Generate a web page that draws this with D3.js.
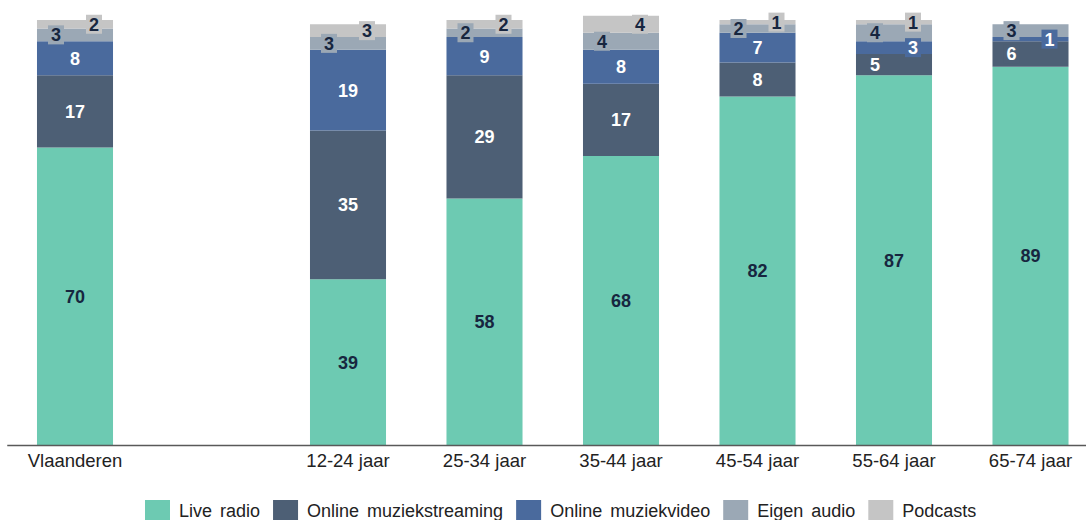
<!DOCTYPE html>
<meta charset="utf-8">
<script src="https://d3js.org/d3.v7.min.js"></script>
<style>
    body { margin: 0; background: #fff; }
    text { font-family: "Liberation Sans", Arial, sans-serif; }
</style>
<body>
    <div id="chart"></div>
</body>
<script>

    // categories (the empty slot is the gap after Vlaanderen)
    var slots = ["Vlaanderen", "gap", "12-24 jaar", "25-34 jaar", "35-44 jaar", "45-54 jaar", "55-64 jaar", "65-74 jaar"];
    var categories = ["Vlaanderen", "12-24 jaar", "25-34 jaar", "35-44 jaar", "45-54 jaar", "55-64 jaar", "65-74 jaar"];

    // series values (percent)
    var liveRadio = [70, 39, 58, 68, 82, 87, 89];
    var streaming = [17, 35, 29, 17, 8, 5, 6];
    var video = [8, 19, 9, 8, 7, 3, 1];
    var eigenAudio = [3, 3, 2, 4, 2, 4, 3];
    var podcasts = [2, 3, 2, 4, 1, 1, 0];

    var seriesNames = ["Live radio", "Online muziekstreaming", "Online muziekvideo", "Eigen audio", "Podcasts"];
    var seriesValues = [liveRadio, streaming, video, eigenAudio, podcasts];
    var colors = ["#6dcab2", "#4d5f75", "#4a6a9d", "#9ba8b5", "#c5c5c5"];
    var textColors = ["#17263f", "#ffffff", "#ffffff", "#17263f", "#17263f"];

    var width = 1086, height = 520;

    var svg = d3.select("#chart")
        .append("svg")
        .attr("width", width)
        .attr("height", height);

    var x = d3.scaleBand()
        .domain(slots)
        .range([6.75, 1098.75])
        .paddingInner(0.443)
        .paddingOuter(0.2215);

    var y = d3.scaleLinear()
        .domain([0, 100])
        .range([445, 20]);

    // build rows for the stack
    var rows = categories.map(function (c, i) {
        var r = { cat: c };
        seriesNames.forEach(function (s, j) { r[s] = seriesValues[j][i]; });
        return r;
    });

    var stacked = d3.stack().keys(seriesNames)(rows);

    // bars
    stacked.forEach(function (layer, j) {
        svg.append("g")
            .selectAll("rect")
            .data(layer)
            .enter()
            .append("rect")
            .attr("x", function (d) { return x(d.data.cat); })
            .attr("width", x.bandwidth())
            .attr("y", function (d) { return y(d[1]); })
            .attr("height", function (d) { return y(d[0]) - y(d[1]); })
            .style("fill", colors[j]);
    });

    // labels: small values shift left / right alternately, with a box
    var labels = svg.append("g");
    categories.forEach(function (c, i) {
        var side = -1;
        var cx = x(c) + x.bandwidth() / 2;
        stacked.forEach(function (layer, j) {
            var d = layer[i];
            var v = d[1] - d[0];
            if (v <= 0) return;
            var cy = y((d[0] + d[1]) / 2);
            var lx = cx;
            if (v < 7) {
                lx = cx + side * 19;
                side = -side;
                labels.append("rect")
                    .attr("x", lx - 8)
                    .attr("y", cy - 9.5)
                    .attr("width", 16)
                    .attr("height", 19)
                    .style("fill", colors[j]);
            }
            labels.append("text")
                .attr("x", lx)
                .attr("y", cy)
                .attr("dy", "0.36em")
                .attr("text-anchor", "middle")
                .style("font-size", "18px")
                .style("font-weight", "bold")
                .style("fill", textColors[j])
                .text(v);
        });
    });

    // x axis
    var axis = svg.append("g")
        .attr("transform", "translate(0,445)")
        .call(d3.axisBottom(x).tickSize(0).tickSizeOuter(0).tickPadding(9)
            .tickFormat(function (d) { return d === "gap" ? "" : d; }));
    axis.select(".domain").attr("stroke", "#595959").attr("stroke-width", 1.3);
    axis.selectAll("text")
        .style("font-size", "18.5px")
        .style("fill", "#222")
        .style("font-family", "\"Liberation Sans\", Arial, sans-serif");

    // legend
    var legend = svg.append("g");
    var lx = 145;
    seriesNames.forEach(function (s, j) {
        legend.append("rect")
            .attr("x", lx)
            .attr("y", 500)
            .attr("width", 25)
            .attr("height", 20)
            .style("fill", colors[j]);
        var t = legend.append("text")
            .attr("x", lx + 34)
            .attr("y", 517)
            .style("font-size", "18px")
            .style("word-spacing", "3px")
            .style("fill", "#222")
            .text(s);
        lx = lx + 34 + t.node().getComputedTextLength() + 13;
    });

</script>
